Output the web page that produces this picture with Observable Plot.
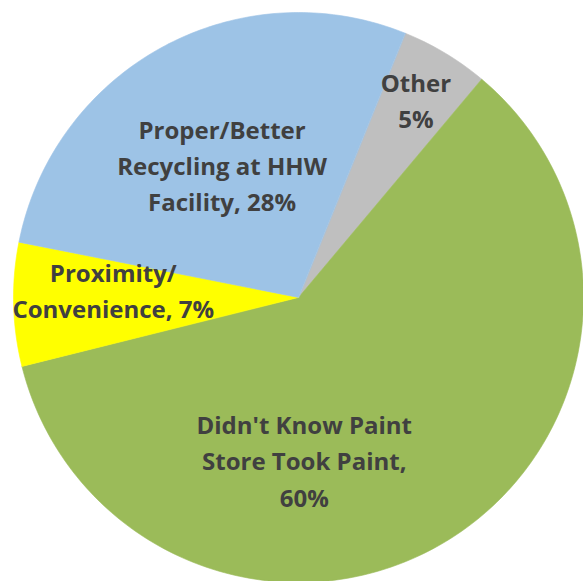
<!DOCTYPE html>
<html>
<head>
<meta charset="utf-8">
<script src="https://cdn.jsdelivr.net/npm/d3@7"></script>
<script src="https://cdn.jsdelivr.net/npm/@observablehq/plot@0.6"></script>
<style>
  html, body { margin: 0; padding: 0; background: #ffffff; }
  #chart { width: 583px; height: 581px; overflow: hidden; }
</style>
</head>
<body>
<div id="chart"></div>
<script>
// ---- data ----
const categories = ["Other", "Didn't Know Paint Store Took Paint", "Proximity/Convenience", "Proper/Better Recycling at HHW Facility"];
const values = [5, 60, 7, 28];
const labels = ["Other\n5%", "Didn't Know Paint\nStore Took Paint,\n60%", "Proximity/\nConvenience, 7%", "Proper/Better\nRecycling at HHW\nFacility, 28%"];
const colors = ["#BFBFBF", "#9BBB59", "#FFFF00", "#9DC3E6"];

// ---- layout ----
const W = 583, H = 581;
const cx = 298, cy = 297, R = 285;       // pie centre and radius in pixels
const startAngleDeg = 22;                  // first slice angle, clockwise from 12 o'clock
const labelRadius = [0.80, 0.58, 0.65, 0.53];
const labelAngleShift = [0, 30, 3, -2];

const total = d3.sum(values);
const toRad = Math.PI / 180;
let acc = startAngleDeg * toRad;
const slices = values.map((v, i) => {
  const a0 = acc;
  const a1 = acc + v / total * 2 * Math.PI;
  acc = a1;
  return {i, cat: categories[i], a0, a1};
});

// polygon points in unit-circle data coordinates (y up)
const polyPts = [];
for (const s of slices) {
  polyPts.push({cat: s.cat, x: 0, y: 0});
  const n = Math.max(2, Math.ceil((s.a1 - s.a0) / (Math.PI / 180)));
  for (let k = 0; k <= n; k++) {
    const a = s.a0 + (s.a1 - s.a0) * k / n;
    polyPts.push({cat: s.cat, x: Math.sin(a), y: Math.cos(a)});
  }
}

const labelPts = slices.map(s => {
  const a = (s.a0 + s.a1) / 2 + labelAngleShift[s.i] * toRad;
  const r = labelRadius[s.i];
  return {text: labels[s.i], x: r * Math.sin(a), y: r * Math.cos(a)};
});

const chart = Plot.plot({
  width: W,
  height: H,
  margin: 0,
  style: {background: "#ffffff", overflow: "visible"},
  x: {domain: [-cx / R, (W - cx) / R], axis: null},
  y: {domain: [-(H - cy) / R, cy / R], axis: null},
  color: {domain: categories, range: colors},
  marks: [
    Plot.line(polyPts, {
      x: "x", y: "y", z: "cat",
      fill: "cat", stroke: "cat", strokeWidth: 0.6,
      curve: "linear-closed"
    }),
    Plot.text(labelPts, {
      x: "x", y: "y", text: "text",
      fill: "#404040",
      fontFamily: "'Open Sans', sans-serif",
      fontWeight: 700,
      fontSize: 24,
      lineHeight: 1.51,
      dy: -4,
      textAnchor: "middle"
    })
  ]
});
document.getElementById("chart").appendChild(chart);
</script>
</body>
</html>
